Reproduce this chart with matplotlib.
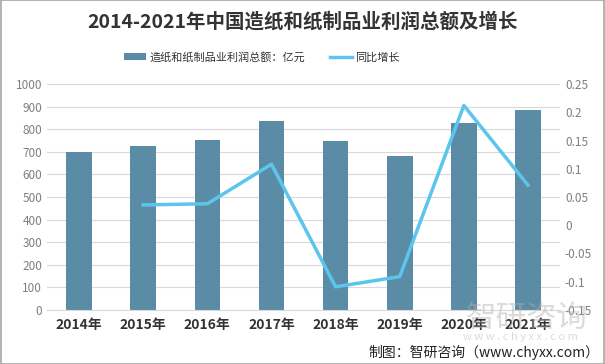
import matplotlib
matplotlib.use('Agg')
import matplotlib.pyplot as plt
import numpy as np

plt.rcParams['font.family'] = ['Noto Sans CJK SC', 'DejaVu Sans']
plt.rcParams['axes.unicode_minus'] = False

# 数据
years = ['2014年', '2015年', '2016年', '2017年', '2018年', '2019年', '2020年', '2021年']
profit = [700, 727, 752, 835, 748, 680, 828, 885]
growth_years = years[1:]
growth = [0.036, 0.038, 0.108, -0.109, -0.091, 0.212, 0.071]

bar_color = '#5a8ca6'
line_color = '#5cc5ec'

fig = plt.figure(figsize=(6.05, 3.64), dpi=100)
ax = fig.add_axes([0.0777, 0.1484, 0.848, 0.6208])
ax2 = ax.twinx()

x = np.arange(len(years))
ax.bar(x, profit, width=0.4, color=bar_color, zorder=2, label='造纸和纸制品业利润总额：亿元')
gx = np.arange(1, len(years))
ax2.plot(gx, growth, color=line_color, lw=2.5, zorder=3, label='同比增长')

ax.set_xlim(-0.5, len(years) - 0.5)
ax.set_ylim(0, 1000)
ax.set_yticks(np.arange(0, 1001, 100))
ax2.set_ylim(-0.15, 0.25)
ax2.set_yticks([-0.15, -0.1, -0.05, 0, 0.05, 0.1, 0.15, 0.2, 0.25])
ax2.set_yticklabels(['-0.15', '-0.1', '-0.05', '0', '0.05', '0.1', '0.15', '0.2', '0.25'])

ax.grid(axis='y', color='#d9d9d9', lw=0.8, zorder=0)
ax.set_axisbelow(True)
for a in (ax, ax2):
    for s in a.spines.values():
        s.set_visible(False)
    a.tick_params(length=0, labelsize=8.5, labelcolor='#7f7f7f')
ax.spines['bottom'].set_visible(True)
ax.spines['bottom'].set_color('#d9d9d9')

ax.set_xticks(x)
ax.set_xticklabels(years, fontsize=10, fontweight='bold', color='#333333')
ax.tick_params(axis='x', pad=6)

fig.text(0.5, 0.94, '2014-2021年中国造纸和纸制品业利润总额及增长', ha='center', va='center',
         fontsize=14, fontweight='bold', color='#333333')

h1, l1 = ax.get_legend_handles_labels()
h2, l2 = ax2.get_legend_handles_labels()
fig.legend(h1 + h2, l1 + l2, loc='center', bbox_to_anchor=(0.433, 0.843), ncol=2, frameon=False,
           fontsize=8, handlelength=2.0, handleheight=0.5, handletextpad=0.3,
           columnspacing=2.2, labelcolor='#333333')

# 水印
fig.text(0.87, 0.125, '智研咨询', ha='center', va='center', fontsize=22, color='#b0b0b0', alpha=0.45)
fig.text(0.86, 0.075, 'w w w . c h y x x . c o m', ha='center', va='center', fontsize=8, color='#b0b0b0', alpha=0.45)

fig.text(0.99, 0.033, '制图：智研咨询（www.chyxx.com）', ha='right', va='center', fontsize=10, color='#222222')

fig.patches.append(plt.Rectangle((0.001, 0.001), 0.998, 0.998, transform=fig.transFigure,
                                 fill=False, edgecolor='#a6a6a6', lw=1.2))

fig.savefig('out.png', dpi=100)
